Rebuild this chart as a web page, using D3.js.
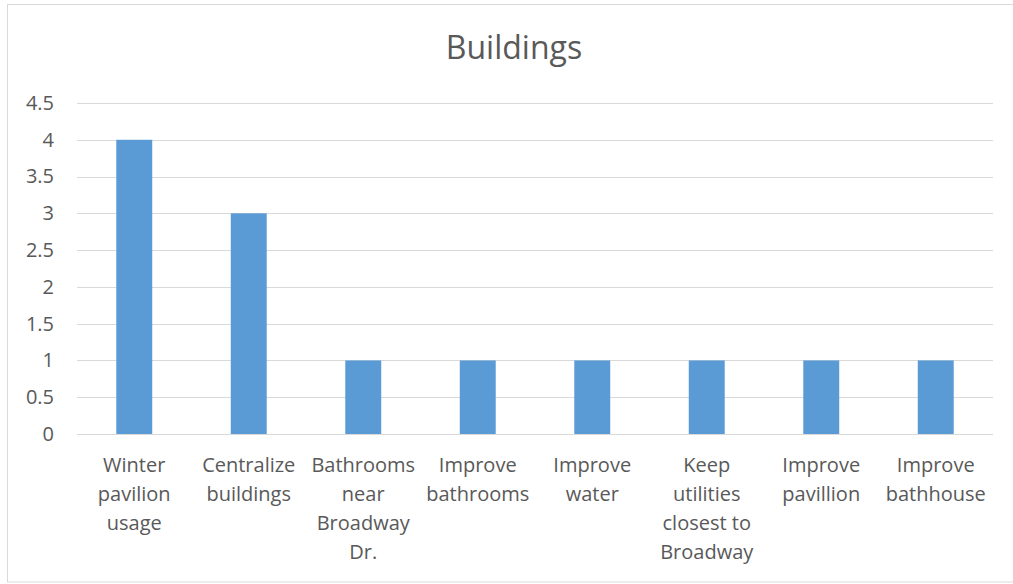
<!DOCTYPE html>
<html>
<head>
<meta charset="utf-8">
<script src="https://cdn.jsdelivr.net/npm/d3@7"></script>
<style>
  html, body { margin: 0; padding: 0; background: #fff; }
  svg { display: block; }
  text { font-family: "Open Sans", Lato, sans-serif; fill: #595959; }
</style>
</head>
<body>
<svg id="chart" width="1013" height="584"></svg>
<script>
const title = "Buildings";
const categories = [
  "Winter pavilion usage",
  "Centralize buildings",
  "Bathrooms near Broadway Dr.",
  "Improve bathrooms",
  "Improve water",
  "Keep utilities closest to Broadway",
  "Improve pavillion",
  "Improve bathhouse"
];
const categoryLines = [
  ["Winter", "pavilion", "usage"],
  ["Centralize", "buildings"],
  ["Bathrooms", "near", "Broadway", "Dr."],
  ["Improve", "bathrooms"],
  ["Improve", "water"],
  ["Keep", "utilities", "closest to", "Broadway"],
  ["Improve", "pavillion"],
  ["Improve", "bathhouse"]
];
const values = [4, 3, 1, 1, 1, 1, 1, 1];
const yTicks = [0, 0.5, 1, 1.5, 2, 2.5, 3, 3.5, 4, 4.5];

const svg = d3.select("#chart");

// chart border
svg.append("rect")
  .attr("x", 7.5).attr("y", 4.5)
  .attr("width", 1020).attr("height", 577.5)
  .attr("fill", "none").attr("stroke", "#d9d9d9").attr("stroke-width", 1);

const x = d3.scaleBand().domain(categories).range([77, 993]).paddingInner(0.686).paddingOuter(0.343);
const y = d3.scaleLinear().domain([0, 4.5]).range([434, 103]);

// gridlines
svg.append("g").selectAll("line").data(yTicks).join("line")
  .attr("x1", 77).attr("x2", 993)
  .attr("y1", d => Math.round(y(d)) + 0.5).attr("y2", d => Math.round(y(d)) + 0.5)
  .attr("stroke", "#d9d9d9").attr("stroke-width", 1);

// y axis labels
const yAxis = d3.axisLeft(y).tickValues(yTicks).tickSize(0).tickPadding(0)
  .tickFormat(d => String(d));
const ya = svg.append("g").attr("transform", "translate(54,0)").call(yAxis);
ya.select(".domain").remove();
ya.selectAll("text").attr("font-size", 20).attr("font-family", "'Open Sans', Lato, sans-serif").attr("fill", "#595959");

// bars
svg.append("g").selectAll("rect").data(values).join("rect")
  .attr("x", (d, i) => x(categories[i]))
  .attr("width", x.bandwidth())
  .attr("y", d => y(d))
  .attr("height", d => y(0) - y(d))
  .attr("fill", "#5b9bd5");

// x axis line (baseline)
svg.append("line")
  .attr("x1", 77).attr("x2", 993)
  .attr("y1", Math.round(y(0)) + 0.5).attr("y2", Math.round(y(0)) + 0.5)
  .attr("stroke", "#d9d9d9");

// category labels
const lbl = svg.append("g").selectAll("text").data(categories).join("text")
  .attr("text-anchor", "middle")
  .attr("font-size", 20)
  .attr("x", d => x(d) + x.bandwidth() / 2)
  .attr("y", 472);
lbl.each(function(d, i) {
  const t = d3.select(this);
  categoryLines[i].forEach((ln, j) => {
    t.append("tspan")
      .attr("x", x(d) + x.bandwidth() / 2)
      .attr("dy", j === 0 ? 0 : 29)
      .text(ln);
  });
});

// title
svg.append("text")
  .attr("x", 514).attr("y", 59)
  .attr("text-anchor", "middle")
  .attr("font-size", 32)
  .text(title);
</script>
</body>
</html>
